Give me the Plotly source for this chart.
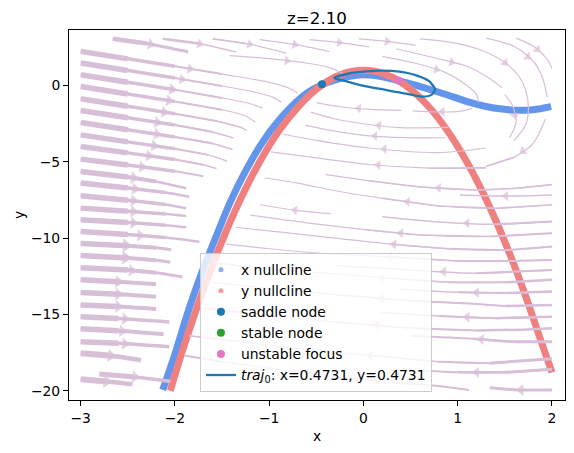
import math
import plotly.graph_objects as go

# ---------------- data ----------------
title_text = "z=2.10"
x_ticks = [-3, -2, -1, 0, 1, 2]
y_ticks = [0, -5, -10, -15, -20]
X_RANGE = [-3.124, 2.138]
Y_RANGE = [-20.61, 3.63]

# x nullcline (blue band)
xnull_x = [-2.13, -2.0, -1.87, -1.73, -1.57, -1.41, -1.25, -1.1, -0.94, -0.75, -0.6, -0.44,
           -0.25, -0.05, 0.1, 0.25, 0.37, 0.55, 0.75, 0.95, 1.12, 1.3, 1.47, 1.6, 1.73, 1.86, 1.99]
xnull_y = [-19.95, -17.6, -15.0, -12.5, -10.0, -7.6, -5.6, -4.0, -2.6, -1.3, -0.5, 0.05,
           0.45, 0.68, 0.66, 0.5, 0.32, 0.02, -0.35, -0.75, -1.1, -1.38, -1.55, -1.62, -1.63, -1.55, -1.38]

# y nullcline (red band)
ynull_x = [-2.05, -1.9, -1.7, -1.5, -1.3, -1.1, -0.9, -0.7, -0.5, -0.3, -0.1, 0.1, 0.3,
           0.5, 0.7, 0.9, 1.1, 1.3, 1.5, 1.7, 1.9, 2.0]
ynull_y = [-20.0, -17.0, -13.4, -10.2, -7.4, -5.0, -3.0, -1.45, -0.25, 0.55, 0.95, 0.95, 0.55,
           -0.25, -1.45, -3.05, -5.05, -7.45, -10.25, -13.45, -17.05, -18.8]

# trajectory (limit-cycle loop)
traj_x = [-0.31, -0.15, 0.03, 0.2, 0.38, 0.56, 0.70, 0.76, 0.72, 0.62, 0.38, 0.03, -0.22, -0.31]
traj_y = [0.49, 0.78, 0.92, 0.97, 0.9, 0.66, 0.26, -0.28, -0.62, -0.73, -0.45, -0.07, 0.33, 0.49]

saddle_x = [-0.44]
saddle_y = [0.08]
stable_x = [None]
stable_y = [None]
focus_x = [0.37]
focus_y = [0.32]

# streamlines, each a list of (x, y) points in flow order
stream_rows_left = [
    [(-3.0, 2.23), (-2.5, 1.74), (-2.0, 1.25), (-1.5, 0.74), (-1.0, 0.2), (-0.8, -0.15), (-0.7, -0.5)],
    [(-3.0, 1.47), (-2.5, 0.98), (-2.0, 0.48), (-1.5, -0.04), (-1.15, -0.45), (-0.95, -0.8), (-0.87, -1.1)],
    [(-3.0, 0.70), (-2.5, 0.21), (-2.0, -0.29), (-1.5, -0.82), (-1.2, -1.2), (-1.07, -1.5)],
    [(-3.0, -0.07), (-2.5, -0.56), (-2.0, -1.06), (-1.5, -1.6), (-1.25, -2.0), (-1.15, -2.4)],
    [(-3.0, -0.87), (-2.5, -1.36), (-2.0, -1.86), (-1.55, -2.35), (-1.3, -2.75), (-1.24, -2.95)],
    [(-3.0, -1.64), (-2.5, -2.12), (-2.0, -2.6), (-1.6, -3.05), (-1.38, -3.45)],
    [(-3.0, -2.43), (-2.5, -2.9), (-2.0, -3.38), (-1.6, -3.8), (-1.39, -4.2)],
    [(-3.0, -3.24), (-2.5, -3.7), (-2.0, -4.15), (-1.65, -4.55), (-1.45, -4.95)],
    [(-3.0, -4.0), (-2.5, -4.42), (-2.0, -4.85), (-1.7, -5.2), (-1.56, -5.45)],
    [(-3.0, -4.83), (-2.5, -5.22), (-2.0, -5.62), (-1.7, -5.95)],
    [(-3.0, -5.64), (-2.5, -6.0), (-2.2, -6.3), (-1.88, -6.75)],
    [(-3.0, -6.4), (-2.5, -6.72), (-2.1, -7.02), (-1.85, -7.3)],
    [(-3.0, -7.23), (-2.5, -7.52), (-2.1, -7.8), (-1.88, -8.05)],
    [(-3.0, -8.04), (-2.5, -8.24), (-2.1, -8.42), (-1.88, -8.55)],
    [(-3.0, -8.8), (-2.5, -8.98), (-2.1, -9.16), (-1.88, -9.3)],
    [(-3.0, -9.57), (-2.5, -9.77), (-2.1, -9.97), (-1.74, -10.25)],
    [(-3.0, -10.35), (-2.5, -10.5), (-2.2, -10.64), (-2.04, -10.77)],
    [(-3.0, -11.15), (-2.5, -11.3), (-2.2, -11.45), (-2.05, -11.58)],
    [(-3.0, -11.95), (-2.5, -12.1), (-2.2, -12.27), (-1.92, -12.55)],
    [(-3.0, -12.74), (-2.6, -12.86), (-2.2, -13.02)],
    [(-3.0, -13.57), (-2.6, -13.68), (-2.2, -13.84)],
    [(-3.0, -14.38), (-2.6, -14.49), (-2.2, -14.65)],
    [(-3.0, -15.15), (-2.6, -15.27), (-2.06, -15.5)],
    [(-3.0, -15.95), (-2.6, -16.07), (-2.12, -16.3)],
    [(-3.0, -16.79), (-2.6, -16.9), (-2.06, -17.12)],
    [(-3.0, -17.55), (-2.7, -17.7), (-2.36, -18.0)],
    [(-3.0, -19.25), (-2.75, -19.38), (-2.45, -19.58)],
    [(-2.8, -18.9), (-2.45, -19.08), (-2.05, -19.38)],
]

stream_top_edge = [
    [(-2.66, 3.05), (-2.3, 2.75), (-1.86, 2.2)],
    [(-2.13, 3.05), (-1.75, 2.74), (-1.35, 2.18)],
    [(-1.6, 3.05), (-1.22, 2.72), (-0.82, 2.12)],
    [(-1.1, 3.0), (-0.75, 2.7), (-0.36, 2.22)],
    [(-0.57, 3.0), (-0.25, 2.8), (0.06, 2.52)],
    [(-0.05, 3.05), (0.25, 2.88), (0.55, 2.62)],
]

stream_upper = [
    [(-1.42, 1.95), (-1.0, 1.75), (-0.59, 1.45), (-0.35, 1.15), (-0.22, 0.78)],
]

stream_arcs = [
    [(0.2, 1.9), (0.55, 1.45), (0.85, 0.9), (1.05, 0.2), (1.2, -0.6), (1.22, -1.1)],
    [(1.15, -1.52), (1.02, -1.7), (0.75, -1.74), (0.52, -1.67)],
    [(0.35, 2.4), (0.81, 1.72), (1.09, 1.27), (1.3, 0.6), (1.47, -0.15)],
    [(1.5, -0.6), (1.58, -1.3), (1.62, -2.4), (1.55, -3.43)],
    [(0.6, 3.05), (0.95, 2.8), (1.25, 2.3), (1.5, 1.5), (1.65, 0.6), (1.72, -0.3), (1.75, -1.5), (1.72, -2.6), (1.6, -3.6)],
    [(1.3, 3.1), (1.6, 2.55), (1.8, 1.6), (1.9, 0.5), (1.95, -0.8)],
    [(1.93, -2.2), (1.85, -3.3), (1.79, -3.87), (1.6, -4.7), (1.3, -5.3)],
    [(1.62, 3.1), (1.82, 2.5), (1.95, 1.7), (2.0, 1.1)],
]

stream_middle = [
    [(0.4, -1.64), (0.06, -1.57), (-0.25, -1.4), (-0.5, -1.13)],
    [(0.9, -2.75), (0.38, -2.77), (0.06, -2.56), (-0.3, -2.2), (-0.56, -1.75)],
    [(0.87, -3.43), (0.45, -3.42), (0.06, -3.3), (-0.35, -2.95), (-0.62, -2.6)],
    [(1.3, -4.1), (0.8, -4.4), (0.06, -4.1), (-0.5, -3.6), (-0.85, -3.2)],
    [(1.3, -5.4), (0.7, -5.42), (0.06, -5.18), (-0.5, -4.75), (-0.98, -4.35)],
]

stream_right = [
    [(2.0, -6.5), (1.6, -6.75), (1.2, -6.85), (0.6, -6.65), (0.06, -6.25), (-0.4, -5.85)],
    [(2.0, -7.18), (1.55, -7.25), (1.02, -7.18)],
    [(2.0, -7.82), (1.4, -8.05), (0.8, -7.9), (0.2, -7.4), (-0.3, -6.9), (-0.7, -6.4), (-1.05, -6.05)],
    [(2.0, -8.92), (1.4, -9.1), (0.8, -8.95), (0.2, -8.6)],
    [(-0.35, -8.4), (-0.7, -8.2), (-1.1, -7.82)],
    [(2.0, -9.68), (1.34, -9.9), (0.6, -9.8), (0.03, -9.46), (-0.6, -9.0), (-1.2, -8.5)],
    [(2.0, -10.56), (1.5, -10.8), (0.9, -10.7), (0.3, -10.4), (-0.3, -10.0), (-0.9, -9.6), (-1.35, -9.3)],
    [(2.0, -11.43), (1.51, -11.5), (1.0, -11.5), (0.2, -11.2), (-0.45, -11.0), (-1.0, -10.7), (-1.45, -10.4)],
    [(2.0, -12.09), (1.2, -12.3), (0.5, -12.1), (-0.3, -11.8)],
    [(2.0, -12.74), (1.5, -12.9), (0.9, -12.9), (0.2, -12.6), (-0.6, -12.2), (-1.2, -11.9), (-1.6, -11.6)],
    [(2.0, -13.5), (1.51, -13.6), (1.0, -13.55), (0.4, -13.35)],
    [(2.0, -14.38), (1.5, -14.45), (1.16, -14.3), (0.5, -14.1), (-0.3, -13.7), (-1.0, -13.3), (-1.6, -12.9)],
    [(2.0, -15.15), (1.4, -15.25), (0.8, -15.1), (0.2, -14.9)],
    [(2.0, -15.91), (1.69, -16.0), (1.2, -16.05), (0.5, -15.9), (-0.3, -15.5), (-1.1, -15.0), (-1.7, -14.6)],
    [(2.0, -16.79), (1.6, -16.8), (1.16, -16.6), (0.5, -16.4)],
    [(2.0, -17.9), (1.34, -18.2), (0.8, -18.1), (0.1, -17.7), (-0.6, -17.3), (-1.3, -16.8), (-1.85, -16.4)],
    [(2.0, -18.6), (1.5, -18.8), (1.0, -18.8), (0.4, -18.6)],
    [(2.0, -19.95), (1.65, -19.95), (1.34, -19.8)],
    [(1.12, -19.95), (0.8, -19.7), (0.3, -19.45), (-0.3, -19.1), (-0.9, -18.6), (-1.5, -18.1), (-1.9, -17.7)],
]

# ---------------- styling / geometry ----------------
# the page body has an 8px default margin, so the figure is 8px smaller
PAGE_OFF = 8
W, H = 574 - PAGE_OFF, 453 - PAGE_OFF
ML, MR, MT, MB = 69 - PAGE_OFF, 9, 30 - PAGE_OFF, 53
PLOT_W = W - ML - MR
PLOT_H = H - MT - MB
FONT = "DejaVu Sans"
STREAM_C = "#D8BFD8"


def to_px(x, y):
    px = (x - X_RANGE[0]) / (X_RANGE[1] - X_RANGE[0]) * PLOT_W
    py = (Y_RANGE[1] - y) / (Y_RANGE[1] - Y_RANGE[0]) * PLOT_H
    return px, py


def seg_width(x, y):
    wl = 5.3 * max(0.0, (-1.3 - x) / 1.7) ** 1.5
    wr = 2.2 * max(0.0, x / 2.0) * max(0.0, (-y - 4.0) / 16.0)
    return 1.2 + wl + wr


fig = go.Figure()

# nullclines
fig.add_trace(go.Scatter(x=xnull_x, y=xnull_y, mode="lines",
                         line=dict(color="#6495ED", width=7, shape="spline"),
                         hoverinfo="skip", showlegend=False))
fig.add_trace(go.Scatter(x=ynull_x, y=ynull_y, mode="lines",
                         line=dict(color="#F08080", width=7, shape="spline"),
                         hoverinfo="skip", showlegend=False))

# streamlines
all_streams = stream_rows_left + stream_top_edge + stream_upper + stream_arcs + stream_middle + stream_right
buckets = {}
arrow_x, arrow_y, arrow_ang, arrow_size = [], [], [], []
for line in all_streams:
    xs = [p[0] for p in line]
    ys = [p[1] for p in line]
    widths = [seg_width((xs[i] + xs[i + 1]) / 2, (ys[i] + ys[i + 1]) / 2) for i in range(len(xs) - 1)]
    base = max(1.2, round(min(widths) * 2) / 2)
    fig.add_trace(go.Scatter(x=xs, y=ys, mode="lines",
                             line=dict(color=STREAM_C, width=base, shape="spline", smoothing=0.8),
                             hoverinfo="skip", showlegend=False))
    for i, w in enumerate(widths):
        k = round(w * 2) / 2
        if k > base:
            bx, by = buckets.setdefault(k, ([], []))
            bx += [xs[i], xs[i + 1], None]
            by += [ys[i], ys[i + 1], None]
    pts = [to_px(x, y) for x, y in line]
    lens = [math.hypot(pts[i + 1][0] - pts[i][0], pts[i + 1][1] - pts[i][1]) for i in range(len(pts) - 1)]
    half = sum(lens) / 2
    acc = 0.0
    for i, L in enumerate(lens):
        if acc + L >= half and L > 0:
            t = (half - acc) / L
            arrow_x.append(xs[i] + t * (xs[i + 1] - xs[i]))
            arrow_y.append(ys[i] + t * (ys[i + 1] - ys[i]))
            dxp = pts[i + 1][0] - pts[i][0]
            dyp = pts[i + 1][1] - pts[i][1]
            arrow_ang.append(math.degrees(math.atan2(dxp, -dyp)))
            arrow_size.append(7.5 + 0.9 * widths[i])
            break
        acc += L

for k in sorted(buckets):
    bx, by = buckets[k]
    fig.add_trace(go.Scatter(x=bx, y=by, mode="lines", line=dict(color=STREAM_C, width=k),
                             hoverinfo="skip", showlegend=False))

fig.add_trace(go.Scatter(x=arrow_x, y=arrow_y, mode="markers",
                         marker=dict(symbol="triangle-up", size=arrow_size, angle=arrow_ang,
                                     color=STREAM_C, line=dict(width=0)),
                         hoverinfo="skip", showlegend=False))

# legend-only markers for nullclines
fig.add_trace(go.Scatter(x=[None], y=[None], mode="markers", name="x nullcline", legendrank=1,
                         marker=dict(color="#6495ED", size=5, opacity=0.75)))
fig.add_trace(go.Scatter(x=[None], y=[None], mode="markers", name="y nullcline", legendrank=2,
                         marker=dict(color="#F08080", size=5, opacity=0.75)))

# trajectory
fig.add_trace(go.Scatter(x=traj_x, y=traj_y, mode="lines", legendrank=6,
                         name="<i>traj</i><sub>0</sub>: x=0.4731, y=0.4731",
                         line=dict(color="#1f77b4", width=2.3, shape="spline", smoothing=0.6)))

# fixed points
fig.add_trace(go.Scatter(x=saddle_x, y=saddle_y, mode="markers", name="saddle node", legendrank=3,
                         marker=dict(color="#1f77b4", size=8)))
fig.add_trace(go.Scatter(x=stable_x, y=stable_y, mode="markers", name="stable node", legendrank=4,
                         marker=dict(color="#2ca02c", size=8)))
fig.add_trace(go.Scatter(x=focus_x, y=focus_y, mode="markers", name="unstable focus", legendrank=5,
                         marker=dict(color="#e377c2", size=8)))

axis_common = dict(showline=True, linecolor="black", linewidth=1, mirror=True,
                   ticks="outside", ticklen=5, tickwidth=1, tickcolor="black",
                   showgrid=False, zeroline=False, automargin=False,
                   tickfont=dict(family=FONT, size=13.9, color="black"))

fig.update_layout(
    width=W, height=H,
    margin=dict(l=ML, r=MR, t=MT, b=MB),
    paper_bgcolor="white", plot_bgcolor="white",
    font=dict(family=FONT, size=13.9, color="black"),
    title=dict(text=title_text, x=0.5, xref="paper", xanchor="center",
               y=1, yref="container", yanchor="top", pad=dict(t=4, b=0),
               font=dict(family=FONT, size=16.7, color="black")),
    xaxis=dict(range=X_RANGE, tickvals=x_ticks,
               title=dict(text="x", standoff=6, font=dict(family=FONT, size=13.9)), **axis_common),
    yaxis=dict(range=Y_RANGE, tickvals=y_ticks,
               title=dict(text="y", standoff=3, font=dict(family=FONT, size=13.9)), **axis_common),
    legend=dict(x=0.264, y=0.397, xanchor="left", yanchor="top",
                bgcolor="rgba(255,255,255,0.8)", bordercolor="#cccccc", borderwidth=1,
                font=dict(family=FONT, size=13.9, color="black"), tracegroupgap=0),
    showlegend=True,
)

fig.write_html("out.html")
